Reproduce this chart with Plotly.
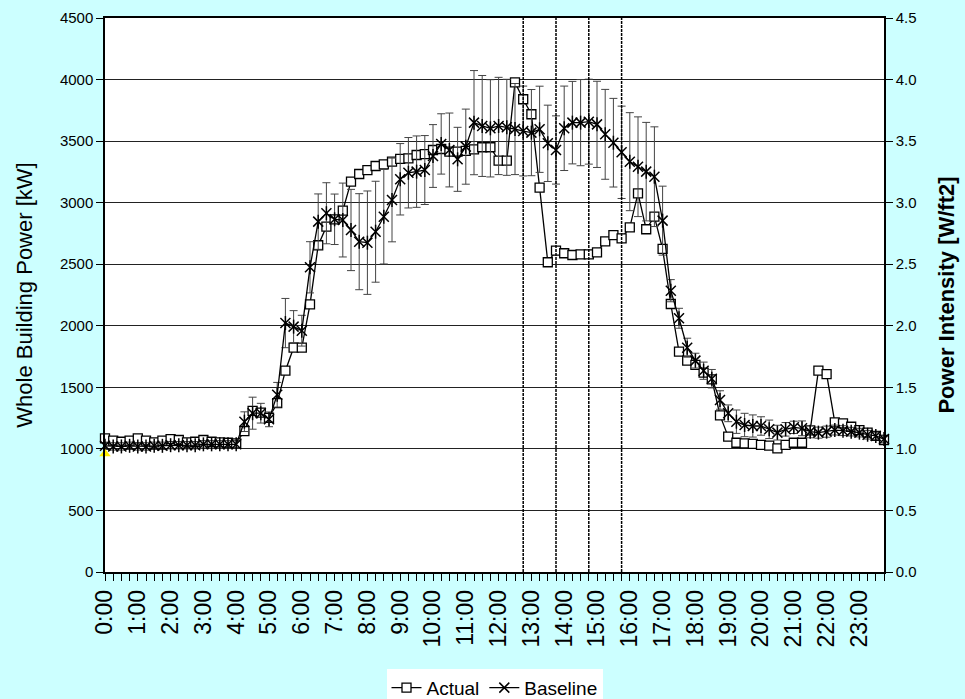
import plotly.graph_objects as go

# ---------------- data ----------------
time_labels = [f"{h}:{m:02d}" for h in range(24) for m in (0, 15, 30, 45)]
hour_labels = [f"{h}:00" for h in range(24)]
event_times = ["12:45", "13:45", "14:45", "15:45"]

actual_kw = [
    1086, 1067, 1058, 1067, 1086, 1067, 1053, 1067, 1080, 1072, 1053, 1058, 1072, 1058, 1053, 1050,
    1045, 1145, 1308, 1294, 1253, 1372, 1635, 1822, 1822, 2174, 2654, 2805, 2865, 2935, 3171, 3233,
    3265, 3298, 3311, 3333, 3355, 3360, 3387, 3395, 3428, 3436, 3414, 3414, 3420, 3433, 3450, 3450,
    3341, 3341, 3977, 3840, 3718, 3122, 2516, 2610, 2589, 2575, 2580, 2580, 2597, 2686, 2737, 2710,
    2800, 3076, 2784, 2886, 2624, 2177, 1790, 1717, 1682, 1619, 1565, 1272, 1099, 1050, 1045, 1040,
    1032, 1026, 1004, 1032, 1050, 1050, 1150, 1635, 1608, 1216, 1208, 1180, 1153, 1132, 1105, 1072,
]

baseline_kw = [
    1025, 1020, 1020, 1025, 1020, 1020, 1025, 1025, 1030, 1030, 1030, 1030, 1037, 1037, 1037, 1037,
    1037, 1221, 1290, 1290, 1240, 1440, 2022, 1993, 1960, 2475, 2846, 2914, 2865, 2859, 2778, 2683,
    2675, 2764, 2886, 3022, 3190, 3243, 3252, 3265, 3379, 3477, 3428, 3352, 3455, 3650, 3623, 3604,
    3623, 3612, 3598, 3582, 3569, 3596, 3482, 3428, 3604, 3650, 3650, 3658, 3636, 3555, 3487, 3409,
    3333, 3292, 3252, 3211, 2854, 2285, 2061, 1822, 1717, 1635, 1570, 1397, 1289, 1221, 1194, 1186,
    1186, 1159, 1132, 1159, 1175, 1167, 1140, 1132, 1140, 1153, 1148, 1140, 1132, 1115, 1105, 1080,
]

baseline_err = [
    30, 30, 30, 30, 30, 30, 30, 30, 30, 30, 30, 30, 30, 30, 30, 30,
    30, 80, 130, 80, 60, 100, 200, 130, 125, 208, 225, 248, 205, 300, 330, 390,
    420, 410, 384, 340, 290, 286, 290, 280, 255, 245, 300, 260, 305, 423, 410, 395,
    395, 390, 370, 365, 350, 350, 310, 277, 343, 335, 350, 345, 350, 365, 360, 375,
    398, 405, 400, 405, 280, 90, 81, 77, 60, 70, 75, 75, 68, 95, 95, 90,
    75, 75, 60, 55, 50, 60, 50, 45, 45, 40, 40, 35, 35, 35, 30, 30,
]

start_marker_kw = [960]
kw_per_intensity = 1000  # kW per W/ft2 on the right axis

# ---------------- figure ----------------
x_idx = list(range(len(time_labels)))
tick_text = [t if t in hour_labels else "" for t in time_labels]

FONT = "Liberation Sans, Arial, sans-serif"
BG = "#CCFFFF"

fig = go.Figure()

fig.add_trace(go.Scatter(
    x=x_idx, y=actual_kw, name="Actual", mode="lines+markers",
    line=dict(color="black", width=1.3),
    marker=dict(symbol="square", size=9, color="white", line=dict(color="black", width=1.3)),
    cliponaxis=False,
))

fig.add_trace(go.Scatter(
    x=x_idx, y=baseline_kw, name="Baseline", mode="lines+markers", legendgroup="b",
    line=dict(color="black", width=1.3),
    marker=dict(symbol="x-thin-open", size=10, color="black", line=dict(color="black", width=1.5)),
    error_y=dict(type="data", array=baseline_err, color="#444444", thickness=1, width=4),
    cliponaxis=False,
))
fig.add_trace(go.Scatter(
    x=x_idx, y=baseline_kw, mode="markers", legendgroup="b", showlegend=False,
    marker=dict(symbol="line-ns-open", size=10, color="black", line=dict(color="black", width=1.5)),
    cliponaxis=False, hoverinfo="skip",
))

fig.add_trace(go.Scatter(
    x=x_idx, y=[v / kw_per_intensity for v in actual_kw], yaxis="y2",
    mode="lines", opacity=0, showlegend=False, hoverinfo="skip",
))

fig.add_trace(go.Scatter(
    x=[0], y=start_marker_kw, mode="markers", showlegend=False,
    marker=dict(symbol="triangle-up", size=10, color="#FFEE00"),
    cliponaxis=False,
))

for t in event_times:
    xi = time_labels.index(t)
    fig.add_shape(type="line", x0=xi, x1=xi, y0=0, y1=1, xref="x", yref="paper",
                  line=dict(color="black", width=1.5, dash="3px,1px"))

fig.update_layout(
    width=965, height=699,
    paper_bgcolor=BG, plot_bgcolor="white",
    margin=dict(l=105, r=81, t=18, b=127, autoexpand=False),
    font=dict(family=FONT, color="black"),
    showlegend=True,
    legend=dict(orientation="h", x=0.5, xanchor="center", y=-0.209, yanchor="middle",
                bgcolor="white", font=dict(size=19, family=FONT), itemwidth=30,
                tracegroupgap=0),
    xaxis=dict(
        range=[0, 95], tickmode="array", tickvals=x_idx, ticktext=tick_text,
        tickangle=-90, ticks="outside", ticklen=7, tickcolor="black",
        tickfont=dict(size=23, family=FONT), automargin=False,
        showline=True, linecolor="black", linewidth=1.5, mirror=True,
        showgrid=False, zeroline=False,
    ),
    yaxis=dict(
        range=[0, 4500], dtick=500, showgrid=True, gridcolor="#222222", gridwidth=1,
        showline=True, linecolor="black", linewidth=1.5, ticks="outside", ticklen=7,
        tickcolor="black", tickfont=dict(size=15, family=FONT), zeroline=False,
        automargin=False,
        title=dict(text="Whole Building Power [kW]", font=dict(size=22, family=FONT), standoff=21),
    ),
    yaxis2=dict(
        range=[0, 4.5], dtick=0.5, tickformat=".1f", overlaying="y", side="right",
        showgrid=False, showline=True, linecolor="black", linewidth=1.5,
        ticks="outside", ticklen=7, tickcolor="black", automargin=False,
        tickfont=dict(size=15, family=FONT), zeroline=False,
        title=dict(text="<b>Power Intensity [W/ft2]</b>", font=dict(size=22, family=FONT), standoff=23),
    ),
)

fig.write_html(
    "out.html",
    config={"displayModeBar": False},
    post_script=f"document.body.style.margin='0';document.body.style.background='{BG}';",
)
